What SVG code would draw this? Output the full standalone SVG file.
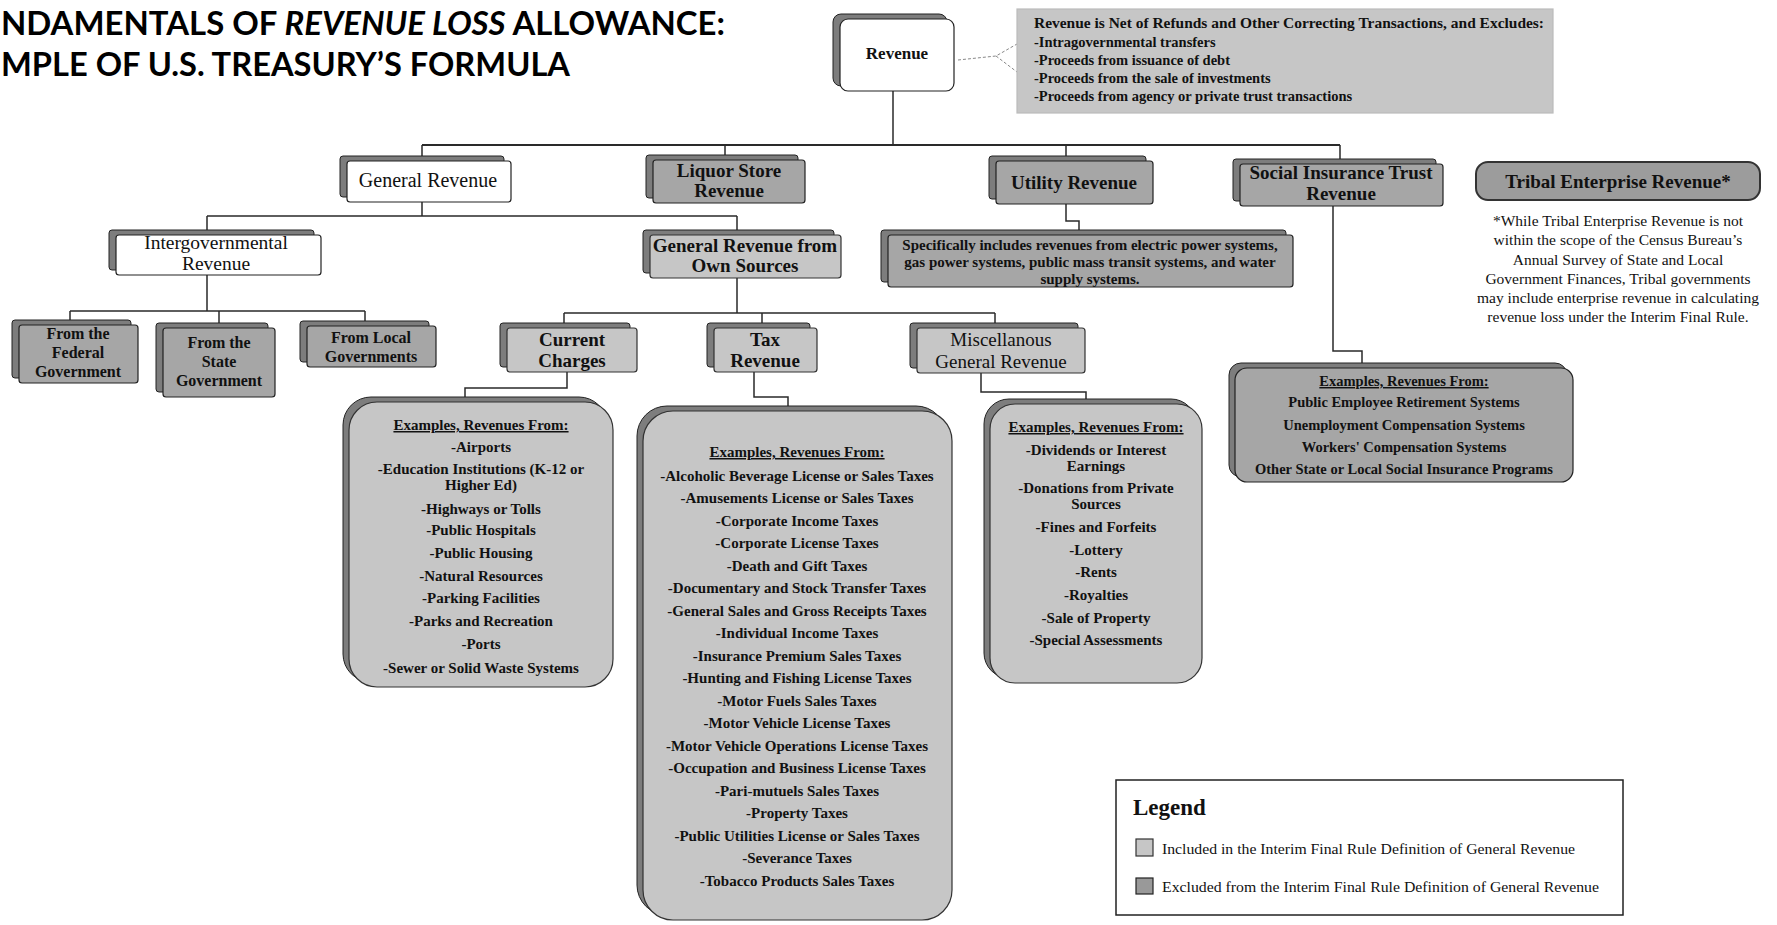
<svg xmlns="http://www.w3.org/2000/svg" width="1777" height="925" viewBox="0 0 1777 925">
<style>
.bg{fill:#ffffff}
.plate{fill:#7d7d7d;stroke:#222;stroke-width:1}
.white{fill:#ffffff;stroke:#222;stroke-width:1.2}
.light{fill:#c6c6c6;stroke:#333;stroke-width:1.2}
.dark{fill:#a6a6a6;stroke:#222;stroke-width:1.2}
.conn{fill:none;stroke:#2a2a2a;stroke-width:1.5}
.call{fill:none;stroke:#888;stroke-width:1;stroke-dasharray:3 2}
text{font-family:"Liberation Serif","Times New Roman",serif;fill:#111}
.t{text-anchor:middle;font-size:19px;font-weight:bold}
.tr{text-anchor:middle;font-size:20px}
.s{text-anchor:middle;font-size:16px;font-weight:bold}
.ex{text-anchor:middle;font-size:15px;font-weight:bold}
.exs{text-anchor:middle;font-size:14.5px;font-weight:bold}
.exh{text-decoration:underline}
.note{font-size:14.5px;font-weight:bold}
.fn{text-anchor:middle;font-size:15.5px}
.title{font-family:Lato,"Open Sans",sans-serif;font-weight:bold;font-size:32px;fill:#000}
</style>
<rect class="bg" x="0" y="0" width="1777" height="925"/>

<g id="title">
<text class="title" x="1" y="35" textLength="724" lengthAdjust="spacingAndGlyphs">NDAMENTALS OF <tspan font-style="italic">REVENUE LOSS</tspan> ALLOWANCE:</text>
<text class="title" x="1" y="76" textLength="569" lengthAdjust="spacingAndGlyphs">MPLE OF U.S. TREASURY’S FORMULA</text>
</g>

<g id="connectors">
<path class="conn" d="M893,91 V145" />
<path class="conn" style="stroke-width:2.2" d="M422,145 H1340" />
<path class="conn" d="M422,145 V156 M725,145 V155 M1066,145 V156 M1340,145 V159" />
<path class="conn" d="M422,202 V216 M207,216 H737 M207,216 V230 M737,216 V230" />
<path class="conn" d="M207,275 V311 M70,311 H365 M70,311 V320 M219,311 V323 M365,311 V321" />
<path class="conn" d="M737,278 V313 M564,313 H995 M564,313 V323 M762,313 V323 M995,313 V323" />
<path class="conn" d="M567,372 V388 H465 V397" />
<path class="conn" d="M754,372 V397 H788 V406" />
<path class="conn" d="M981,373 V392 H1086 V399" />
<path class="conn" d="M1066,204 V221 H1079 V230" />
<path class="conn" d="M1333,206 V351 H1362 V363" />
<path class="call" d="M958,60 L996,56 L1017,44 M996,56 L1017,72" />
</g>

<g id="revenue">
<rect class="plate" x="833" y="14" width="114" height="72" rx="8"/>
<rect class="white" x="840" y="19" width="114" height="72" rx="8"/>
<text class="t" x="897" y="59" style="font-size:17px">Revenue</text>
</g>

<g id="note">
<rect class="light" x="1017" y="9" width="536" height="104" style="stroke:#bbb"/>
<text class="note" x="1034" y="28" textLength="510" lengthAdjust="spacingAndGlyphs">Revenue is Net of Refunds and Other Correcting Transactions, and Excludes:</text>
<text class="note" x="1034" y="47">-Intragovernmental transfers</text>
<text class="note" x="1034" y="65">-Proceeds from issuance of debt</text>
<text class="note" x="1034" y="83">-Proceeds from the sale of investments</text>
<text class="note" x="1034" y="101">-Proceeds from agency or private trust transactions</text>
</g>

<g id="general-revenue">
<rect class="plate" x="340" y="156" width="164" height="41" rx="3"/>
<rect class="white" x="347" y="161" width="164" height="41" rx="3"/>
<text class="tr" x="428" y="187">General Revenue</text>
</g>

<g id="liquor-store">
<rect class="plate" x="646" y="155" width="152" height="43" rx="3"/>
<rect class="dark" x="653" y="160" width="152" height="43" rx="3"/>
<text class="t" x="729" y="177">Liquor Store</text>
<text class="t" x="729" y="197">Revenue</text>
</g>

<g id="utility">
<rect class="plate" x="989" y="156" width="157" height="43" rx="3"/>
<rect class="dark" x="996" y="161" width="157" height="43" rx="3"/>
<text class="t" x="1074" y="189">Utility Revenue</text>
</g>

<g id="social-insurance">
<rect class="plate" x="1233" y="159" width="203" height="42" rx="3"/>
<rect class="dark" x="1240" y="164" width="203" height="42" rx="3"/>
<text class="t" x="1341" y="179">Social Insurance Trust</text>
<text class="t" x="1341" y="200">Revenue</text>
</g>

<g id="tribal">
<rect class="dark" x="1476" y="162" width="284" height="38" rx="12" style="fill:#9c9c9c;stroke:#333;stroke-width:2"/>
<text class="t" x="1618" y="188">Tribal Enterprise Revenue*</text>
<text class="fn" x="1618" y="226">*While Tribal Enterprise Revenue is not</text>
<text class="fn" x="1618" y="245">within the scope of the Census Bureau’s</text>
<text class="fn" x="1618" y="265">Annual Survey of State and Local</text>
<text class="fn" x="1618" y="284">Government Finances, Tribal governments</text>
<text class="fn" x="1618" y="303">may include enterprise revenue in calculating</text>
<text class="fn" x="1618" y="322">revenue loss under the Interim Final Rule.</text>
</g>

<g id="intergovernmental">
<rect class="plate" x="109" y="230" width="205" height="40" rx="3"/>
<rect class="white" x="116" y="235" width="205" height="40" rx="3"/>
<text class="tr" x="216" y="249" style="font-size:19.5px">Intergovernmental</text>
<text class="tr" x="216" y="270" style="font-size:19.5px">Revenue</text>
</g>

<g id="own-sources">
<rect class="plate" x="643" y="230" width="191" height="43" rx="3"/>
<rect class="light" x="650" y="235" width="191" height="43" rx="3"/>
<text class="t" x="745" y="252">General Revenue from</text>
<text class="t" x="745" y="272">Own Sources</text>
</g>

<g id="federal">
<rect class="plate" x="12" y="320" width="119" height="58" rx="3"/>
<rect class="dark" x="19" y="325" width="119" height="58" rx="3"/>
<text class="s" x="78" y="339">From the</text>
<text class="s" x="78" y="358">Federal</text>
<text class="s" x="78" y="377">Government</text>
</g>

<g id="state">
<rect class="plate" x="156" y="323" width="112" height="69" rx="3"/>
<rect class="dark" x="163" y="328" width="112" height="69" rx="3"/>
<text class="s" x="219" y="348">From the</text>
<text class="s" x="219" y="367">State</text>
<text class="s" x="219" y="386">Government</text>
</g>

<g id="local">
<rect class="plate" x="300" y="321" width="129" height="41" rx="3"/>
<rect class="dark" x="307" y="326" width="129" height="41" rx="3"/>
<text class="s" x="371" y="343">From Local</text>
<text class="s" x="371" y="362">Governments</text>
</g>

<g id="current-charges">
<rect class="plate" x="500" y="323" width="130" height="44" rx="3"/>
<rect class="light" x="507" y="328" width="130" height="44" rx="3"/>
<text class="t" x="572" y="346">Current</text>
<text class="t" x="572" y="367">Charges</text>
</g>

<g id="tax-revenue">
<rect class="plate" x="707" y="323" width="103" height="44" rx="3"/>
<rect class="light" x="714" y="328" width="103" height="44" rx="3"/>
<text class="t" x="765" y="346">Tax</text>
<text class="t" x="765" y="367">Revenue</text>
</g>

<g id="misc">
<rect class="plate" x="910" y="323" width="168" height="45" rx="3"/>
<rect class="light" x="917" y="328" width="168" height="45" rx="3"/>
<text class="t" x="1001" y="346" style="font-weight:normal">Miscellanous</text>
<text class="t" x="1001" y="368" style="font-weight:normal">General Revenue</text>
</g>

<g id="utility-detail">
<rect class="plate" x="881" y="230" width="405" height="52" rx="3"/>
<rect class="dark" x="888" y="235" width="405" height="52" rx="3"/>
<text class="ex" x="1090" y="250">Specifically includes revenues from electric power systems,</text>
<text class="ex" x="1090" y="267">gas power systems, public mass transit systems, and water</text>
<text class="ex" x="1090" y="284">supply systems.</text>
</g>

<g id="current-examples">
<rect class="plate" x="343" y="397" width="264" height="285" rx="28"/>
<rect class="light" x="349" y="402" width="264" height="285" rx="28"/>
<text class="ex" x="481" y="430"><tspan class="exh">Examples, Revenues From:</tspan></text>
<text class="ex" x="481" y="452">-Airports</text>
<text class="ex" x="481" y="474">-Education Institutions (K-12 or</text>
<text class="ex" x="481" y="490">Higher Ed)</text>
<text class="ex" x="481" y="514">-Highways or Tolls</text>
<text class="ex" x="481" y="535">-Public Hospitals</text>
<text class="ex" x="481" y="558">-Public Housing</text>
<text class="ex" x="481" y="581">-Natural Resources</text>
<text class="ex" x="481" y="603">-Parking Facilities</text>
<text class="ex" x="481" y="626">-Parks and Recreation</text>
<text class="ex" x="481" y="649">-Ports</text>
<text class="ex" x="481" y="673">-Sewer or Solid Waste Systems</text>
</g>

<g id="tax-examples">
<rect class="plate" x="637" y="406" width="309" height="509" rx="30"/>
<rect class="light" x="643" y="411" width="309" height="509" rx="30"/>
<text class="ex" x="797" y="457"><tspan class="exh">Examples, Revenues From:</tspan></text>
<text class="ex" x="797" y="481">-Alcoholic Beverage License or Sales Taxes</text>
<text class="ex" x="797" y="503">-Amusements License or Sales Taxes</text>
<text class="ex" x="797" y="526">-Corporate Income Taxes</text>
<text class="ex" x="797" y="548">-Corporate License Taxes</text>
<text class="ex" x="797" y="571">-Death and Gift Taxes</text>
<text class="ex" x="797" y="593">-Documentary and Stock Transfer Taxes</text>
<text class="ex" x="797" y="616">-General Sales and Gross Receipts Taxes</text>
<text class="ex" x="797" y="638">-Individual Income Taxes</text>
<text class="ex" x="797" y="661">-Insurance Premium Sales Taxes</text>
<text class="ex" x="797" y="683">-Hunting and Fishing License Taxes</text>
<text class="ex" x="797" y="706">-Motor Fuels Sales Taxes</text>
<text class="ex" x="797" y="728">-Motor Vehicle License Taxes</text>
<text class="ex" x="797" y="751">-Motor Vehicle Operations License Taxes</text>
<text class="ex" x="797" y="773">-Occupation and Business License Taxes</text>
<text class="ex" x="797" y="796">-Pari-mutuels Sales Taxes</text>
<text class="ex" x="797" y="818">-Property Taxes</text>
<text class="ex" x="797" y="841">-Public Utilities License or Sales Taxes</text>
<text class="ex" x="797" y="863">-Severance Taxes</text>
<text class="ex" x="797" y="886">-Tobacco Products Sales Taxes</text>
</g>

<g id="misc-examples">
<rect class="plate" x="984" y="399" width="212" height="279" rx="25"/>
<rect class="light" x="990" y="404" width="212" height="279" rx="25"/>
<text class="ex" x="1096" y="432"><tspan class="exh">Examples, Revenues From:</tspan></text>
<text class="ex" x="1096" y="455">-Dividends or Interest</text>
<text class="ex" x="1096" y="471">Earnings</text>
<text class="ex" x="1096" y="493">-Donations from Private</text>
<text class="ex" x="1096" y="509">Sources</text>
<text class="ex" x="1096" y="532">-Fines and Forfeits</text>
<text class="ex" x="1096" y="555">-Lottery</text>
<text class="ex" x="1096" y="577">-Rents</text>
<text class="ex" x="1096" y="600">-Royalties</text>
<text class="ex" x="1096" y="623">-Sale of Property</text>
<text class="ex" x="1096" y="645">-Special Assessments</text>
</g>

<g id="social-examples">
<rect class="plate" x="1229" y="363" width="338" height="114" rx="12"/>
<rect class="dark" x="1235" y="368" width="338" height="114" rx="12"/>
<text class="exs" x="1404" y="386"><tspan class="exh">Examples, Revenues From:</tspan></text>
<text class="exs" x="1404" y="407">Public Employee Retirement Systems</text>
<text class="exs" x="1404" y="430">Unemployment Compensation Systems</text>
<text class="exs" x="1404" y="452">Workers' Compensation Systems</text>
<text class="exs" x="1404" y="474">Other State or Local Social Insurance Programs</text>
</g>

<g id="legend">
<rect x="1116" y="780" width="507" height="135" fill="#fff" stroke="#222" stroke-width="1.5"/>
<text x="1133" y="815" style="font-size:23px;font-weight:bold">Legend</text>
<rect x="1136" y="839" width="17" height="17" fill="#c6c6c6" stroke="#333" stroke-width="1.2"/>
<text x="1162" y="854" style="font-size:15px" textLength="413" lengthAdjust="spacingAndGlyphs">Included in the Interim Final Rule Definition of General Revenue</text>
<rect x="1136" y="878" width="17" height="16" fill="#999" stroke="#222" stroke-width="1.2"/>
<text x="1162" y="892" style="font-size:15px" textLength="437" lengthAdjust="spacingAndGlyphs">Excluded from the Interim Final Rule Definition of General Revenue</text>
</g>
</svg>
